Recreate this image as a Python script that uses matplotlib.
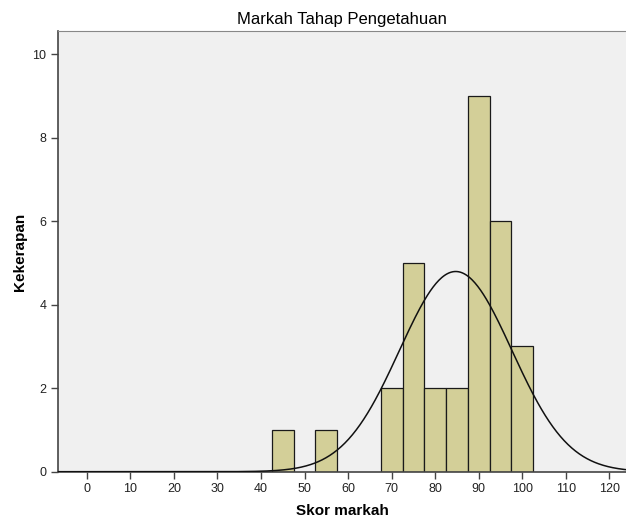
import numpy as np
import matplotlib
matplotlib.use('Agg')
import matplotlib.pyplot as plt

plt.rcParams['font.family'] = ['Liberation Sans', 'DejaVu Sans']

# histogram bins (width 5) and counts
bin_left = [42.5, 52.5, 67.5, 72.5, 77.5, 82.5, 87.5, 92.5, 97.5]
counts = [1, 1, 2, 5, 2, 2, 9, 6, 3]
bin_width = 5

# normal curve parameters
mean = 84.7
std_dev = 12.9
n_total = 31

x_ticks = [0, 10, 20, 30, 40, 50, 60, 70, 80, 90, 100, 110, 120]
y_ticks = [0, 2, 4, 6, 8, 10]

fig = plt.figure(figsize=(6.26, 5.18), dpi=100)
ax = fig.add_axes([0.0927, 0.0894, 0.9073, 0.8506])
ax.set_facecolor('#F0F0F0')

ax.bar(bin_left, counts, width=bin_width, align='edge', color='#D3CF98',
       edgecolor='#1a1a1a', linewidth=0.9, zorder=2)

xs = np.linspace(-6.6, 124, 600)
ys = n_total * bin_width / (std_dev * np.sqrt(2 * np.pi)) * np.exp(-0.5 * ((xs - mean) / std_dev) ** 2)
ax.plot(xs, ys, color='#111111', linewidth=1.1, zorder=3)

ax.set_xlim(-6.6, 123.8)
ax.set_ylim(0, 10.55)
ax.set_xticks(x_ticks)
ax.set_yticks(y_ticks)
ax.tick_params(axis='both', direction='out', length=5, width=1, color='#444444',
               labelsize=9, labelcolor='#222222')

for side in ['left', 'bottom']:
    ax.spines[side].set_color('#444444')
    ax.spines[side].set_linewidth(1.2)
ax.spines['top'].set_color('#888888')
ax.spines['right'].set_visible(False)

ax.set_title('Markah Tahap Pengetahuan', fontsize=12, pad=5)
ax.set_xlabel('Skor markah', fontsize=11, fontweight='bold', labelpad=6)
ax.set_ylabel('Kekerapan', fontsize=11, fontweight='bold', labelpad=4)

fig.savefig('out.png', dpi=100)
